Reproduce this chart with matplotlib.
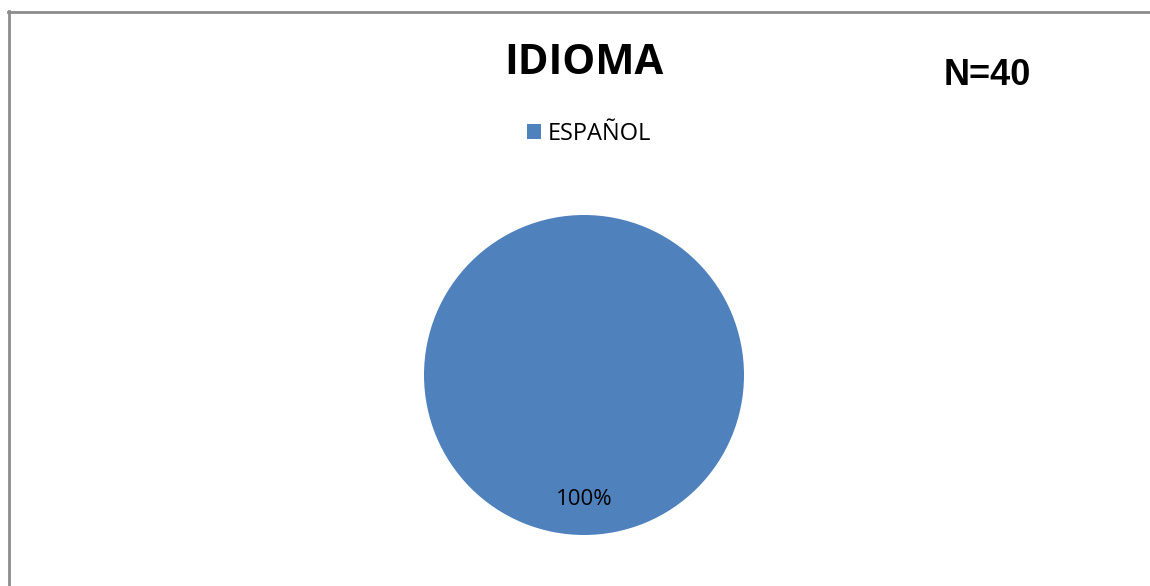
import matplotlib.pyplot as plt
from matplotlib.lines import Line2D

labels = ['ESPAÑOL']
values = [40]
colors = ['#4F81BD']
title = 'IDIOMA'
n_text = 'N=40'

W, H = 1150, 586
fig = plt.figure(figsize=(W/100, H/100), dpi=100)
fig.patch.set_facecolor('white')

# chart frame: only top and left edges are visible
fig.add_artist(Line2D([9/W, 9/W], [0, 1 - 11/H], transform=fig.transFigure, color='#8c8c8c', lw=2))
fig.add_artist(Line2D([8/W, 1], [1 - 12/H, 1 - 12/H], transform=fig.transFigure, color='#8c8c8c', lw=2))

# pie, centre (584, 375), radius 160
r = 160
ax = fig.add_axes([(584 - r)/W, 1 - (375 + r)/H, 2*r/W, 2*r/H])
wedges, texts, autotexts = ax.pie(values, colors=colors, startangle=90, counterclock=False,
                                  autopct='%1.0f%%', pctdistance=0.8,
                                  wedgeprops=dict(linewidth=0))
for t in autotexts:
    t.set_fontsize(16)
    t.set_family('Open Sans')
    t.set_color('black')
# push the label to the bottom of the circle
autotexts[0].set_position((0, -0.78))
ax.set_xlim(-1, 1)
ax.set_ylim(-1, 1)
ax.set_aspect('equal')

fig.text(584/W, 1 - 63/H, title, ha='center', va='center', fontsize=30,
         fontweight='bold', family='Open Sans')
fig.text(987/W, 1 - 76/H, n_text, ha='center', va='center', fontsize=26,
         fontweight='bold', family='Liberation Sans')

fig.legend(wedges, labels, loc='center', bbox_to_anchor=(589/W, 1 - 134/H),
           frameon=False, prop={'family': 'Open Sans', 'size': 17},
           handlelength=0.6, handleheight=0.6, handletextpad=0.3)

fig.savefig('out.png', dpi=100)
